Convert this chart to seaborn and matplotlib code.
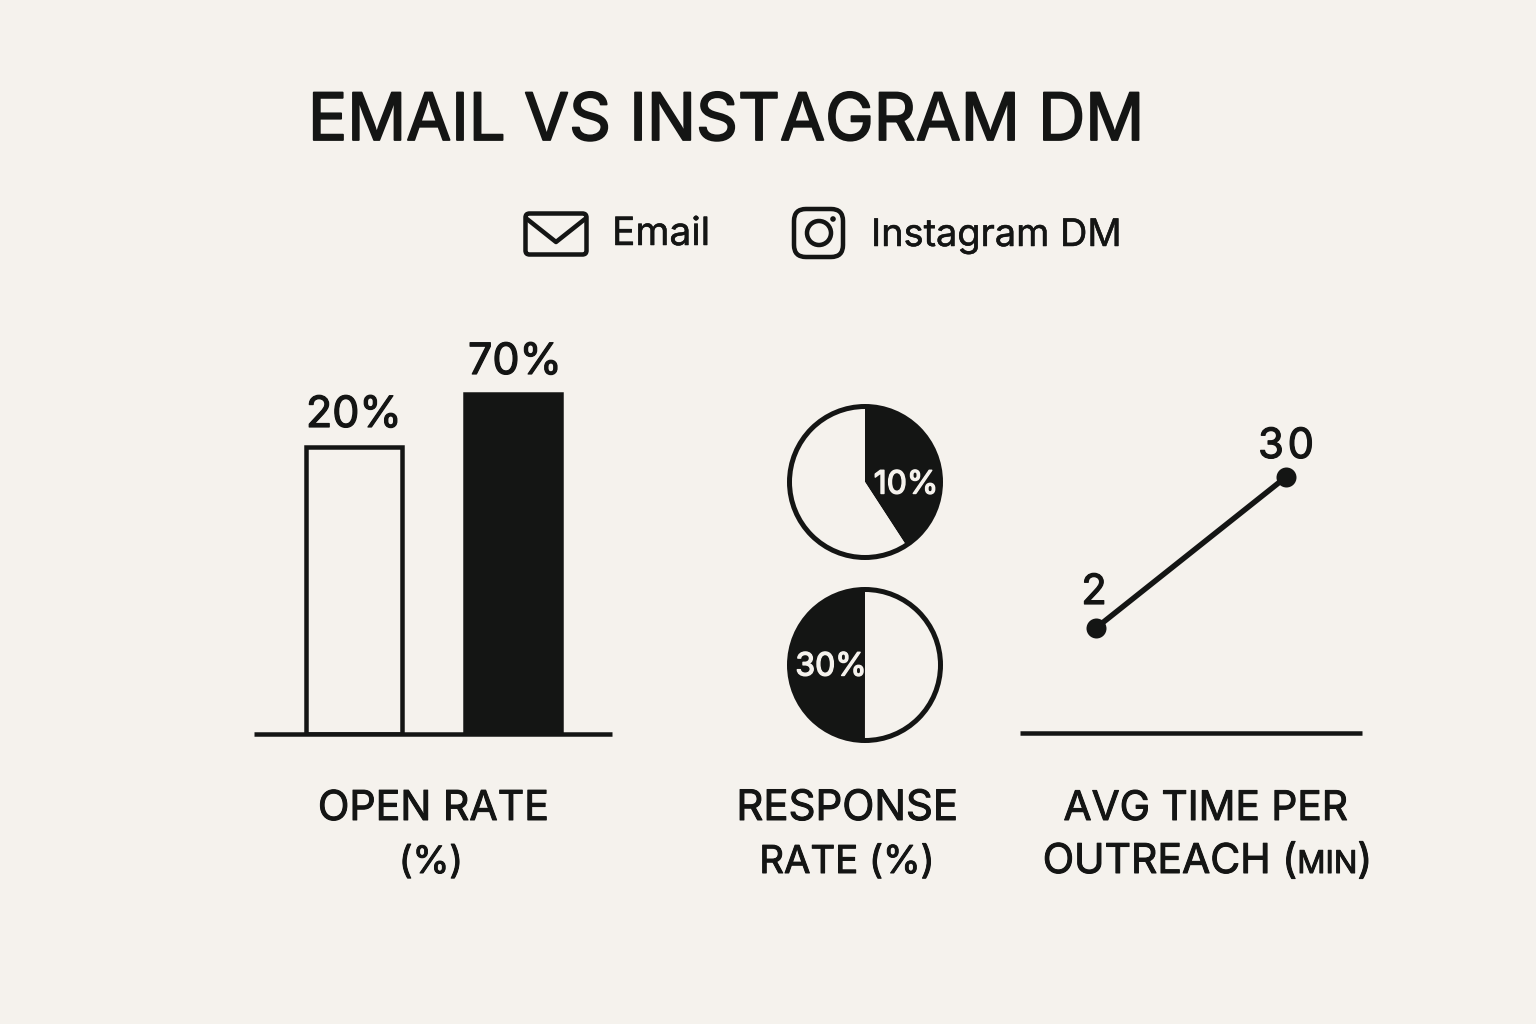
import numpy as np
import pandas as pd
import matplotlib
matplotlib.use("Agg")
import matplotlib.pyplot as plt
from matplotlib.patches import Circle, FancyBboxPatch
import matplotlib.patheffects as pe
import seaborn as sns

channels = ["Email", "Instagram DM"]
open_rate = [20, 70]
response_rate = [10, 30]
outreach_minutes = [2, 30]

INK = "#141514"
PAPER = "#f5f2ed"
W, H = 1536, 1024

sns.set_theme(style="white")
plt.rcParams["font.family"] = ["Inter", "DejaVu Sans"]
plt.rcParams["savefig.facecolor"] = PAPER

fig = plt.figure(figsize=(W / 100, H / 100), dpi=100, facecolor=PAPER)
px = 72 / 100  # one pixel, in points


def heavier(width, color=INK):
    """Outline text slightly so the regular Inter cut reads as medium weight."""
    return [pe.withStroke(linewidth=width * px, foreground=color)]


def panel(x0, y0, x1, y1):
    """Transparent axes placed by its pixel box (y measured from the top)."""
    ax = fig.add_axes([x0 / W, 1 - y1 / H, (x1 - x0) / W, (y1 - y0) / H])
    ax.patch.set_alpha(0)
    return ax


def clean(ax):
    ax.set_xticks([])
    ax.set_yticks([])
    ax.minorticks_off()
    ax.set_xlabel("")
    ax.set_ylabel("")
    for s in ax.spines.values():
        s.set_visible(False)
    ax.spines["bottom"].set_visible(True)
    ax.spines["bottom"].set_linewidth(4.5 * px)
    ax.spines["bottom"].set_color(INK)
    ax.spines["bottom"].set_capstyle("butt")


# Open rate: bars on a logarithmic value axis
ax = panel(254, 350, 612, 734)
frame = pd.DataFrame({"channel": channels, "rate": open_rate})
sns.barplot(data=frame, x="channel", y="rate", hue="channel", ax=ax, width=0.605,
            palette=[PAPER, INK], log_scale=True, legend=False, saturation=1,
            edgecolor=INK, linewidth=4.5 * px)
per_log = 53 / np.log(70 / 20)
floor = 20 * np.exp(-287 / per_log)
ax.set_ylim(floor, 70 * np.exp(44 / per_log))
ax.set_xlim(-0.629, 1.623)
clean(ax)
for bar, v, nudge in zip(ax.patches, open_rate, [0, 2]):
    # a log axis has no zero, so the bars stand on the axis floor
    bar.set_y(floor)
    bar.set_height(v - floor)
    ax.annotate(f"{v}%", (bar.get_x() + bar.get_width() / 2, v), xytext=(nudge * px, 11 * px),
                textcoords="offset points", ha="center", va="bottom",
                fontsize=31, color=INK, path_effects=heavier(1.2))


# Response rate: two pies whose sweep follows a log scale of the value
def sweep(v):
    return 77.8 + 30.04 * np.log(v)


R = 75.5
for (cy, v, clockwise, tx, ty) in [(482, response_rate[0], True, 906, -3),
                                   (665, response_rate[1], False, 831, -2)]:
    ax = panel(865 - 85, cy - 85, 865 + 85, cy + 85)
    a = sweep(v)
    ax.pie([a, 360 - a], colors=[INK, PAPER], startangle=90, counterclock=not clockwise,
           radius=R, wedgeprops={"linewidth": 0})
    ax.set_xlim(-85, 85)
    ax.set_ylim(-85, 85)
    ax.add_patch(Circle((0, 0), R, fill=False, ec=INK, lw=5 * px))
    ax.text(tx - 865, ty, f"{v}%", color=PAPER, fontsize=23, ha="center", va="center",
            path_effects=heavier(1.4, PAPER))

# Average time: a two-point line above its own baseline
ax = panel(1020, 350, 1362, 733)
frame = pd.DataFrame({"channel": channels, "minutes": outreach_minutes})
sns.lineplot(data=frame, x="channel", y="minutes", ax=ax, color=INK, linewidth=5.5 * px,
             marker="o", markersize=20 * px, markeredgewidth=0, sort=False)
per_min = (628 - 477) / (30 - 2)
ax.set_xlim(-0.4, 1.4)
ax.set_ylim(2 - (733 - 628) / per_min, 2 + (628 - 350) / per_min)
clean(ax)
ax.annotate("2", (0, 2), xytext=(-2 * px, 16 * px), textcoords="offset points", ha="center",
            va="bottom", fontsize=30, color=INK, path_effects=heavier(1.2))
ax.annotate("3\u200a0", (1, 30), xytext=(0, 11 * px), textcoords="offset points", ha="center",
            va="bottom", fontsize=30, color=INK, path_effects=heavier(1.2))

# Page furniture: title, legend icons, captions
page = fig.add_axes([0, 0, 1, 1])
page.set_xlim(0, W)
page.set_ylim(H, 0)
page.axis("off")
page.patch.set_alpha(0)

page.text(308, 140, "EMAIL VS INSTAGRAM DM", fontsize=47, color=INK, ha="left", va="baseline",
          path_effects=heavier(1.8))
page.text(612, 245, channels[0], fontsize=28, color=INK, ha="left", va="baseline",
          path_effects=heavier(0.5))
page.text(871, 246, channels[1], fontsize=27.3, color=INK, ha="left", va="baseline",
          path_effects=heavier(0.5))

page.add_patch(FancyBboxPatch((525.5, 213.5), 61, 41, boxstyle="round,pad=0,rounding_size=4",
                              fill=False, ec=INK, lw=4.5 * px))
page.plot([527, 556, 585], [219, 242, 219], color=INK, lw=4.5 * px, solid_joinstyle="round")
page.add_patch(FancyBboxPatch((794, 209), 49, 48, boxstyle="round,pad=0,rounding_size=12",
                              fill=False, ec=INK, lw=4.5 * px))
page.add_patch(Circle((819, 233), 12, fill=False, ec=INK, lw=4.5 * px))
page.add_patch(Circle((833, 219), 2.8, fc=INK, ec="none"))


def caption(cx, base, runs):
    """Centre a row of text runs of mixed size on cx."""
    renderer = fig.canvas.get_renderer()
    items = [page.text(0, base, s, fontsize=fs, color=INK, va="baseline", path_effects=heavier(1))
             for s, fs in runs]
    widths = [t.get_window_extent(renderer).width for t in items]
    x = cx - sum(widths) / 2
    for t, w in zip(items, widths):
        t.set_x(x)
        x += w


caption(433.5, 820, [("OPEN RATE", 29.6)])
caption(431, 873, [("(%)", 27)])
caption(847, 820, [("RESPONSE", 30.2)])
caption(847, 873, [("RATE (%)", 27.6)])
caption(1206, 820, [("AVG TIME PER", 29.3)])
caption(1207.5, 873, [("OUTREACH (", 29.5), ("MIN", 22.5), (")", 29.5)])

fig.savefig("out.png", dpi=100)
